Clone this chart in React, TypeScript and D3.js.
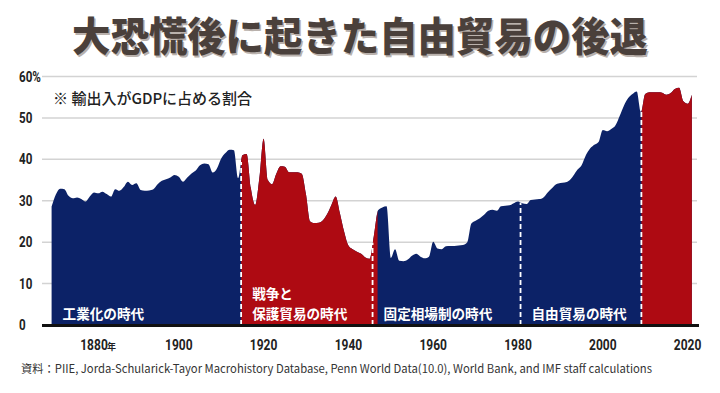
import React from "react";
import * as d3 from "d3";

// ---- data ----
const firstYear = 1870;
const shareValues: number[] = [
  // 1870-1879
  28.6, 31.5, 32.9, 32.8, 31.2, 30.6, 30.8, 30.4, 29.8, 31.0,
  // 1880-1889
  32.0, 31.8, 32.2, 31.6, 31.0, 32.8, 32.4, 33.3, 34.6, 33.8,
  // 1890-1899
  34.2, 32.6, 32.4, 32.5, 32.8, 34.0, 34.8, 35.2, 35.6, 36.2,
  // 1900-1909
  35.8, 34.6, 35.6, 36.6, 37.3, 38.6, 39.0, 38.8, 36.8, 37.8,
  // 1910-1919
  40.2, 41.5, 42.3, 42.2, 35.5, 41.0, 41.3, 33.0, 29.0, 35.5,
  // 1920-1929
  45.0, 35.0, 34.0, 36.5, 38.3, 38.2, 36.9, 36.9, 36.9, 36.5,
  // 1930-1939
  31.5, 25.0, 24.6, 24.7, 25.3, 26.8, 29.0, 31.0, 27.0, 22.5,
  // 1940-1949
  19.2, 18.3, 17.7, 17.2, 16.3, 16.0, 21.5, 27.7, 28.4, 28.7,
  // 1950-1959
  16.2, 18.3, 15.5, 15.4, 15.8, 16.7, 17.2, 16.5, 16.1, 16.5,
  // 1960-1969
  20.1, 18.5, 18.3, 19.0, 19.1, 19.1, 19.2, 19.3, 19.9, 24.5,
  // 1970-1979
  25.2, 25.8, 26.6, 27.6, 27.8, 27.6, 28.7, 28.8, 28.9, 29.4,
  // 1980-1989
  29.8, 29.4, 29.2, 30.2, 30.3, 30.4, 30.8, 32.0, 33.0, 34.0,
  // 1990-1999
  34.3, 34.4, 34.8, 36.0, 37.5, 38.6, 41.0, 42.6, 43.5, 44.2,
  // 2000-2009
  47.1, 46.8, 47.3, 48.2, 50.5, 53.0, 54.8, 55.8, 56.4, 51.5,
  // 2010-2019
  55.8, 56.2, 56.2, 56.2, 56.1, 55.6, 56.0, 57.0, 57.3, 54.0,
  // 2020-2021
  53.4, 55.6,
];
const years = shareValues.map((_, i) => firstYear + i);

const yTicks = [0, 10, 20, 30, 40, 50, 60];
const xTicks = [1880, 1900, 1920, 1940, 1960, 1980, 2000, 2020];

const eraStarts = [1870, 1914.7, 1945.7, 1980.6, 2009.1];
const eraLabels: string[][] = [
  ["工業化の時代"],
  ["戦争と", "保護貿易の時代"],
  ["固定相場制の時代"],
  ["自由貿易の時代"],
  [],
];
const eraIsRed = [false, true, false, false, true];

const titleText = "大恐慌後に起きた自由貿易の後退";
const noteText = "※ 輸出入がGDPに占める割合";
const sourceText =
  "資料：PIIE, Jorda-Schularick-Tayor Macrohistory Database, Penn World Data(10.0), World Bank, and IMF staff calculations";

// ---- style ----
const W = 720;
const H = 393;
const NAVY = "#0c2267";
const RED = "#ae0a12";
const CJK = "'Noto Sans CJK JP', 'Noto Sans', sans-serif";
const NUM = "Roboto, 'Liberation Sans', sans-serif";

export default function App() {
  const x = d3.scaleLinear().domain([1880, 2020]).range([94, 687.6]);
  const y = d3.scaleLinear().domain([0, 60]).range([325, 76.5]);
  const data = years.map((yr, i) => ({ yr, v: shareValues[i] }));
  const lastYear = years[years.length - 1];

  const area = d3
    .area<{ yr: number; v: number }>()
    .x((d) => x(d.yr))
    .y0(y(0))
    .y1((d) => y(d.v))
    .curve(d3.curveMonotoneX);
  const areaPath = area(data) || "";

  const valueAt = (yr: number) => {
    const i = Math.floor(yr - firstYear);
    const t = yr - firstYear - i;
    const a = shareValues[i];
    const b = shareValues[Math.min(i + 1, shareValues.length - 1)];
    return a + (b - a) * t;
  };

  const eras = eraStarts.map((s, i) => ({
    start: s,
    end: i + 1 < eraStarts.length ? eraStarts[i + 1] : lastYear,
    red: eraIsRed[i],
    labels: eraLabels[i],
  }));

  const lineGap = 19.8;

  return (
    <svg
      width={W}
      height={H}
      style={{ position: "absolute", left: 0, top: 0, background: "#fff" }}
    >
      <defs>
        <clipPath id="redClip">
          {eras
            .filter((e) => e.red)
            .map((e, i) => (
              <rect
                key={i}
                x={x(e.start)}
                y={0}
                width={x(e.end) - x(e.start) + 5}
                height={H}
              />
            ))}
        </clipPath>
      </defs>

      {/* title */}
      <text
        x={W / 2 + 1.5}
        y={52.5}
        textAnchor="middle"
        fontFamily={CJK}
        fontWeight={900}
        fontSize={40}
        fill="#b9b1ac"
        textLength={576}
        lengthAdjust="spacingAndGlyphs"
      >
        {titleText}
      </text>
      <text
        x={W / 2}
        y={51}
        textAnchor="middle"
        fontFamily={CJK}
        fontWeight={900}
        fontSize={40}
        fill="#4a403b"
        textLength={576}
        lengthAdjust="spacingAndGlyphs"
      >
        {titleText}
      </text>

      {/* gridlines */}
      {yTicks
        .filter((t) => t > 0)
        .map((t) => (
          <line
            key={t}
            x1={42}
            x2={697}
            y1={y(t)}
            y2={y(t)}
            stroke="#d3d3d3"
            strokeWidth={1.5}
          />
        ))}

      {/* y tick labels */}
      {yTicks.map((t) => (
        <text
          key={t}
          transform={`translate(19,${y(t) + 5}) scale(0.8,1)`}
          fontFamily={NUM}
          fontWeight={700}
          fontSize={14.5}
          fill="#222"
        >
          {t === 60 ? "60%" : String(t)}
        </text>
      ))}

      {/* note */}
      <text x={53} y={104} fontFamily={CJK} fontWeight={500} fontSize={15} fill="#222">
        {noteText}
      </text>

      {/* areas */}
      <path d={areaPath} fill={NAVY} />
      <path d={areaPath} fill={RED} clipPath="url(#redClip)" />

      {/* era dividers */}
      {eraStarts.slice(1).map((b) => (
        <line
          key={b}
          x1={x(b)}
          x2={x(b)}
          y1={y(0)}
          y2={y(valueAt(b))}
          stroke="#fff"
          strokeWidth={1.8}
          strokeDasharray="5,3"
        />
      ))}

      {/* era labels */}
      {eras
        .filter((e) => e.labels.length > 0)
        .map((e, i) => (
          <text
            key={i}
            x={x(e.start) + 11}
            y={318.5 - (e.labels.length - 1) * lineGap}
            fontFamily={CJK}
            fontWeight={700}
            fontSize={13.6}
            fill="#fff"
          >
            {e.labels.map((l, j) => (
              <tspan key={j} x={x(e.start) + 11} dy={j === 0 ? 0 : lineGap}>
                {l}
              </tspan>
            ))}
          </text>
        ))}

      {/* baseline */}
      <line x1={42} x2={699} y1={y(0) + 0.5} y2={y(0) + 0.5} stroke="#111" strokeWidth={3} />

      {/* x tick labels */}
      {xTicks.map((t) => (
        <g key={t} transform={`translate(${x(t)},350)`}>
          <text
            transform="scale(0.8,1)"
            textAnchor="middle"
            fontFamily={NUM}
            fontWeight={700}
            fontSize={15}
            fill="#222"
          >
            {String(t)}
          </text>
          {t === 1880 && (
            <text x={13} y={0} fontFamily={CJK} fontWeight={700} fontSize={9} fill="#222">
              年
            </text>
          )}
        </g>
      ))}

      {/* source */}
      <text
        x={21}
        y={373}
        fontFamily={CJK}
        fontSize={11.5}
        fill="#333"
        textLength={631}
        lengthAdjust="spacingAndGlyphs"
      >
        {sourceText}
      </text>
    </svg>
  );
}
